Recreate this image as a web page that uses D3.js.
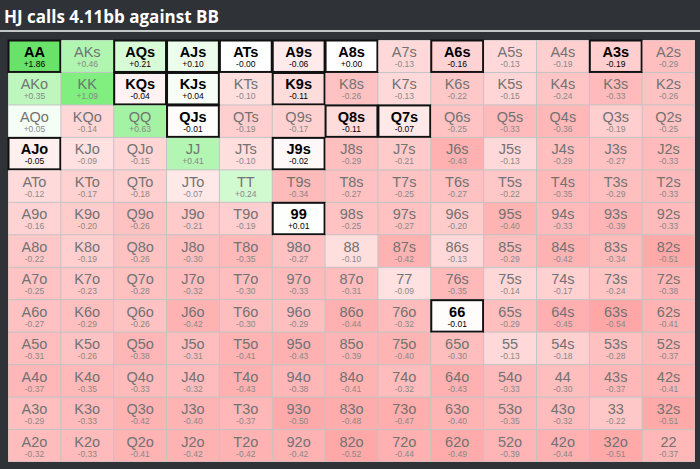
<!DOCTYPE html>
<html>
<head>
<meta charset="utf-8">
<script src="https://cdn.jsdelivr.net/npm/d3@7"></script>
<style>
  html, body { margin: 0; padding: 0; background: #2f3236; }
  svg { display: block; }
</style>
</head>
<body>
<svg></svg>
<script>
let width = 700, height = 469;

// ranks along both axes
let ranks = ["A", "K", "Q", "J", "T", "9", "8", "7", "6", "5", "4", "3", "2"];

// EV (bb) per cell, row = first rank, col = second rank
let evA = [1.86, 0.46, 0.21, 0.10, -0.00, -0.06, 0.00, -0.13, -0.16, -0.13, -0.19, -0.19, -0.29];
let evK = [0.35, 1.09, -0.04, 0.04, -0.10, -0.11, -0.26, -0.13, -0.22, -0.15, -0.24, -0.33, -0.26];
let evQ = [0.05, -0.14, 0.63, -0.01, -0.19, -0.17, -0.11, -0.07, -0.25, -0.33, -0.36, -0.19, -0.25];
let evJ = [-0.05, -0.09, -0.15, 0.41, -0.10, -0.02, -0.29, -0.21, -0.43, -0.13, -0.29, -0.27, -0.33];
let evT = [-0.12, -0.17, -0.18, -0.07, 0.24, -0.34, -0.27, -0.25, -0.27, -0.22, -0.35, -0.29, -0.33];
let ev9 = [-0.16, -0.20, -0.26, -0.21, -0.19, 0.01, -0.25, -0.27, -0.20, -0.40, -0.33, -0.39, -0.33];
let ev8 = [-0.22, -0.19, -0.26, -0.30, -0.35, -0.27, -0.10, -0.42, -0.13, -0.29, -0.42, -0.34, -0.51];
let ev7 = [-0.25, -0.23, -0.28, -0.32, -0.30, -0.33, -0.31, -0.09, -0.35, -0.14, -0.17, -0.24, -0.38];
let ev6 = [-0.27, -0.29, -0.26, -0.42, -0.30, -0.29, -0.44, -0.32, -0.01, -0.29, -0.45, -0.54, -0.41];
let ev5 = [-0.31, -0.26, -0.38, -0.31, -0.41, -0.43, -0.39, -0.40, -0.30, -0.13, -0.18, -0.28, -0.37];
let ev4 = [-0.37, -0.35, -0.33, -0.32, -0.43, -0.38, -0.41, -0.32, -0.43, -0.33, -0.30, -0.37, -0.41];
let ev3 = [-0.29, -0.33, -0.42, -0.40, -0.37, -0.50, -0.48, -0.47, -0.40, -0.35, -0.32, -0.22, -0.51];
let ev2 = [-0.32, -0.33, -0.41, -0.42, -0.42, -0.42, -0.52, -0.44, -0.49, -0.39, -0.44, -0.51, -0.37];
let evRows = [evA, evK, evQ, evJ, evT, ev9, ev8, ev7, ev6, ev5, ev4, ev3, ev2];

// hands in the calling range (boxed, bold)
let called = ["AA", "AQs", "AJs", "ATs", "A9s", "A8s", "A6s", "A3s",
              "KQs", "KJs", "K9s", "QJs", "Q8s", "Q7s", "AJo", "J9s", "99", "66"];

let svg = d3.select("svg")
    .attr("width", width)
    .attr("height", height);

// title + separator
svg.append("text")
    .attr("x", 4)
    .attr("y", 23)
    .attr("fill", "#ffffff")
    .attr("font-family", "'Open Sans', 'Liberation Sans', sans-serif")
    .attr("font-weight", "bold")
    .attr("font-size", 17)
    .text("HJ calls 4.11bb against BB");

svg.append("rect")
    .attr("x", 0).attr("y", 30)
    .attr("width", width).attr("height", 2)
    .attr("fill", "#c4c6c8");

let x = d3.scaleBand().domain(ranks).range([8, 695]);
let y = d3.scaleBand().domain(ranks).range([40, 462]);

let color = d3.scaleLinear()
    .domain([-0.55, -0.25, -0.1, 0, 0.2, 0.4, 0.63, 1.09, 1.86])
    .range(["#ffa5a5", "#ffc3c3", "#ffdede", "#ffffff", "#d8fbd8", "#b4f6b4", "#a4f2a4", "#80ef80", "#68e268"])
    .clamp(true);

// build cells
let cells = [];
ranks.forEach((r, i) => {
  ranks.forEach((c, j) => {
    let name = i == j ? r + c : (j > i ? r + c + "s" : c + r + "o");
    cells.push({ row: r, col: c, name: name, ev: evRows[i][j], on: called.includes(name) });
  });
});

let fmt = v => (v > 0 || Object.is(v, 0) ? "+" : "-") + Math.abs(v).toFixed(2);

// grid background (gap lines)
svg.append("rect")
    .attr("x", 8).attr("y", 40)
    .attr("width", 687).attr("height", 422)
    .attr("fill", "#c3c3c3");

let g = svg.append("g").attr("id", "cells")
    .selectAll("g")
    .data(cells)
    .enter()
    .append("g")
    .attr("transform", d => "translate(" + x(d.col) + "," + y(d.row) + ")");

g.append("rect")
    .attr("x", 0.5).attr("y", 0.5)
    .attr("width", x.bandwidth() - 1)
    .attr("height", y.bandwidth() - 1)
    .attr("fill", d => color(d.ev))
    .attr("stroke", d => d.on ? "#111" : "none")
    .attr("stroke-width", 2);

g.append("text")
    .attr("x", x.bandwidth() / 2)
    .attr("y", 17)
    .attr("text-anchor", "middle")
    .attr("font-family", "'Liberation Sans', Arial, sans-serif")
    .attr("font-size", 14.5)
    .attr("font-weight", d => d.on ? "bold" : "normal")
    .attr("fill", d => d.on ? "#000" : "#727272")
    .text(d => d.name);

g.append("text")
    .attr("x", x.bandwidth() / 2)
    .attr("y", 27)
    .attr("text-anchor", "middle")
    .attr("font-family", "'Liberation Sans', Arial, sans-serif")
    .attr("font-size", 8.5)
    .attr("fill", d => d.on ? "#000" : "#888888")
    .text(d => fmt(d.ev));
</script>
</body>
</html>
